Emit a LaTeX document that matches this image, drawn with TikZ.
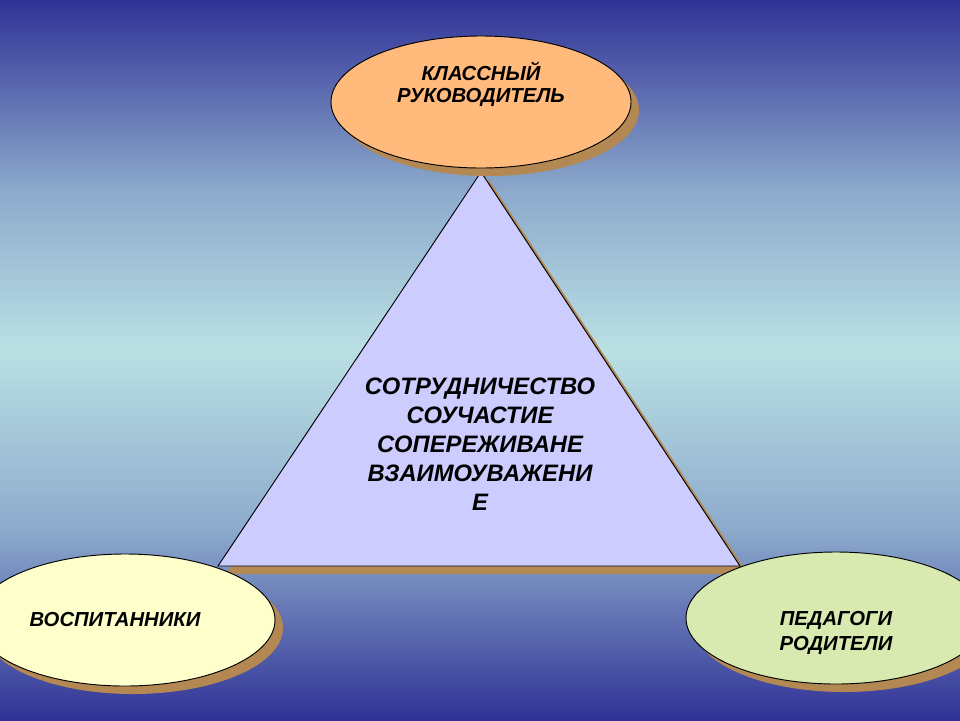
\documentclass[tikz,border=0pt]{standalone}
\usepackage{fontspec}
\setmainfont{Liberation Sans}
\usepackage{xcolor}
\usepackage{tikz}
\usetikzlibrary{shapes.geometric,shadows,positioning}
\definecolor{bgdark}{RGB}{48,50,150}
\definecolor{bgmid}{RGB}{140,170,204}
\definecolor{bglight}{RGB}{186,224,228}
\definecolor{shadowbrown}{RGB}{180,136,82}
\definecolor{peach}{RGB}{255,186,124}
\definecolor{lavender}{RGB}{204,204,255}
\definecolor{cream}{RGB}{255,255,204}
\definecolor{palegreen}{RGB}{216,234,176}

\begin{document}
\begin{tikzpicture}[x=0.03cm,y=-0.03cm,
  brownshadow/.style={drop shadow={shadow xshift=0.24cm,shadow yshift=-0.24cm,fill=shadowbrown,opacity=1}},
  oval/.style={ellipse,draw,line width=0.8pt,minimum width=9cm,minimum height=3.96cm,brownshadow},
  lbl/.style={font=\fontsize{17.3}{18.7}\selectfont\bfseries\itshape,align=center}]
  \useasboundingbox (0,0) rectangle (960,720);
  \clip (0,0) rectangle (960,720);
  \shade[top color=bgdark,bottom color=bgmid] (0,0) rectangle (960,191);
  \shade[top color=bgmid,bottom color=bglight] (0,190) rectangle (960,351);
  \shade[top color=bglight,bottom color=bgmid] (0,350) rectangle (960,531);
  \shade[top color=bgmid,bottom color=bgdark] (0,530) rectangle (960,720);
  \coordinate (apex) at (481,172);
  \coordinate (baseL) at (218,566);
  \coordinate (baseR) at (740,566);
  \filldraw[fill=lavender,line width=0.8pt,brownshadow] (apex) -- (baseL) -- (baseR) -- cycle;
  \node[font=\fontsize{20.3}{24.7}\selectfont\bfseries\itshape,align=center] (values) at (480,444)
    {СОТРУДНИЧЕСТВО\\СОУЧАСТИЕ\\СОПЕРЕЖИВАНЕ\\ВЗАИМОУВАЖЕНИ\\Е};
  \node[oval,fill=peach] (teacher) at (481,102) {};
  \node[lbl] (teachertxt) at (481,84) {КЛАССНЫЙ\\РУКОВОДИТЕЛЬ};
  \node[oval,fill=cream] (pupils) at (125,620) {};
  \node[lbl] (pupilstxt) at (115,620) {ВОСПИТАННИКИ};
  \node[oval,fill=palegreen] (staff) at (836,618) {};
  \node[lbl,font=\fontsize{17.3}{21.3}\selectfont\bfseries\itshape] (stafftxt) at (836,633) {ПЕДАГОГИ\\РОДИТЕЛИ};
\end{tikzpicture}
\end{document}
